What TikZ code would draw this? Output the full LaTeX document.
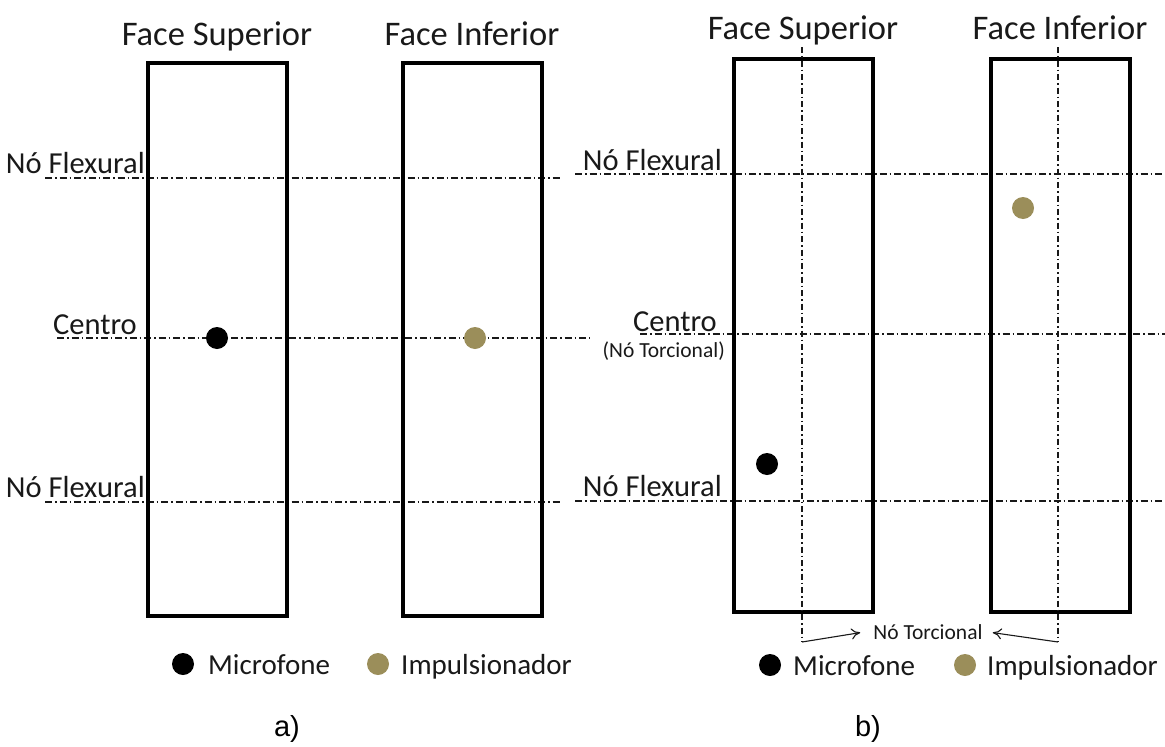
\documentclass[tikz,border=0pt]{standalone}
\usepackage{fontspec}
\setmainfont{Carlito}
\newfontfamily\arialf{Liberation Sans}
\usetikzlibrary{arrows.meta}
\definecolor{olive}{RGB}{155,142,90}
\definecolor{ink}{RGB}{25,25,25}
\begin{document}
\begin{tikzpicture}[x=1pt,y=-1pt,
  plate/.style={draw=black,line width=4pt,rectangle,minimum width=139pt,minimum height=553pt,inner sep=0pt},
  axisline/.style={line width=1.3pt,draw=ink,dash pattern=on 7pt off 3pt on 1.5pt off 3pt},
  title/.style={font=\fontsize{34.5}{40}\selectfont,text=ink,inner sep=0pt,anchor=base},
  lab/.style={font=\fontsize{30.5}{36}\selectfont,text=ink,inner sep=0pt,anchor=base east},
  smalltext/.style={font=\fontsize{21.5}{26}\selectfont,text=ink,inner sep=0pt},
  leg/.style={font=\fontsize{29}{34}\selectfont,text=ink,inner sep=0pt,anchor=base west},
  mic/.style={circle,fill=black,minimum size=22pt,inner sep=0pt},
  imp/.style={circle,fill=olive,minimum size=22pt,inner sep=0pt},
  captext/.style={font=\arialf\fontsize{29}{34}\selectfont,inner sep=0pt,anchor=base},
  arr/.style={line width=1.1pt,draw=ink,-{To[length=9pt,width=11pt]}}
]
\useasboundingbox (0,0) rectangle (1165,747);
% ---------------- panel a ----------------
\draw[axisline] (45,178) -- (560,178);
\draw[axisline] (57,338) -- (590,338);
\draw[axisline] (45,502) -- (560,502);
\node[plate] (a1) at (217.5,339) {};
\node[plate] (a2) at (472.5,339) {};
\node[title] (ta1) at (217,45) {Face Superior};
\node[title] (ta2) at (472,45) {Face Inferior};
\node[lab] (la1) at (145,173) {Nó Flexural};
\node[lab] (la2) at (137,334) {Centro};
\node[lab] (la3) at (145,497) {Nó Flexural};
\node[mic] (ma) at (217,338) {};
\node[imp] (ia) at (475,338) {};
\node[mic] (lma) at (183,664) {};
\node[leg] (lmat) at (208,674) {Microfone};
\node[imp] (lia) at (378,664) {};
\node[leg] (liat) at (401,674) {Impulsionador};
\node[captext] (capa) at (287,736) {a)};
% ---------------- panel b ----------------
\draw[axisline] (575,174) -- (1165,174);
\draw[axisline] (640,334) -- (1165,334);
\draw[axisline] (575,501) -- (1165,501);
\node[plate] (b1) at (803,335.5) {};
\node[plate] (b2) at (1060,335.5) {};
\coordinate (v1t) at (802,47);
\coordinate (v1b) at (802,642);
\coordinate (v2t) at (1058,47);
\coordinate (v2b) at (1058,642);
\draw[axisline,dash pattern=on 6pt off 3pt on 1.5pt off 3pt] (v1t) -- (v1b);
\draw[axisline,dash pattern=on 6pt off 3pt on 1.5pt off 3pt] (v2t) -- (v2b);
\node[title] (tb1) at (803,39) {Face Superior};
\node[title] (tb2) at (1060,39) {Face Inferior};
\node[lab] (lb1) at (722,170) {Nó Flexural};
\node[lab] (lb2) at (717,331) {Centro};
\node[smalltext,anchor=base east] (lb2s) at (725,357) {(Nó Torcional)};
\node[lab] (lb3) at (722,496) {Nó Flexural};
\node[mic] (mb) at (767,464) {};
\node[imp] (ib) at (1023,208) {};
\node[smalltext,anchor=base] (tors) at (928,639) {Nó Torcional};
\draw[arr] (v1b) -- ([xshift=-13pt,yshift=-1pt]tors.west);
\draw[arr] (v2b) -- ([xshift=10pt,yshift=-1pt]tors.east);
\node[mic] (lmb) at (770,665) {};
\node[leg] (lmbt) at (793,675) {Microfone};
\node[imp] (lib) at (965,665) {};
\node[leg] (libt) at (987,675) {Impulsionador};
\node[captext] (capb) at (868,736) {b)};
\end{tikzpicture}
\end{document}
